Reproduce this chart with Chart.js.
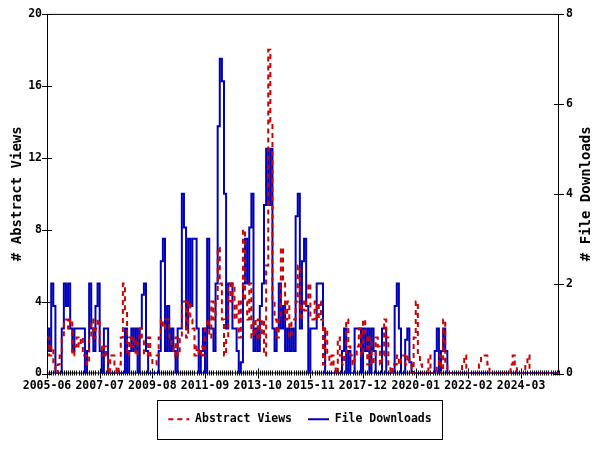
<!DOCTYPE html>
<html>
<head>
<meta charset="utf-8">
<script src="https://cdn.jsdelivr.net/npm/chart.js@4.4.0/dist/chart.umd.min.js"></script>
<style>
  html, body { margin: 0; padding: 0; background: #fff; }
</style>
</head>
<body>
<canvas id="graf" width="600" height="450"></canvas>
<script>
// meses desde 2005-06 hasta 2025-09
const inicioAnio = 2005, inicioMes = 6, totalMeses = 244;
const etiquetasEje = ['2005-06', '2007-07', '2009-08', '2011-09', '2013-10',
  '2015-11', '2017-12', '2020-01', '2022-02', '2024-03'];
const tituloIzq = '# Abstract Views';
const tituloDer = '# File Downloads';

// vistas del resumen (eje izquierdo)
const vistas = [
  2, 1, 1.5, 0.5, 0, 0.5, 1, 2, 3, 3, 2.5, 3,
  1, 1.5, 2, 1.5, 2, 1, 1, 0.5, 2, 3, 2, 2.5,
  3, 1.5, 1, 1.5, 1, 0, 1, 1, 0.5, 0, 0.5, 2,
  5, 3.5, 1, 2, 1.5, 2, 1, 2, 2.5, 2, 1, 1,
  2, 1, 0.5, 0.5, 1, 2, 3, 2.5, 3, 3, 2, 1.5,
  1, 2, 1, 2, 4, 4, 2, 4, 3, 2.5, 1, 1.5,
  1, 1.5, 1, 2.5, 3, 2, 4, 3, 4, 7, 5, 3,
  1, 2, 5, 4, 5, 3, 4, 2, 4, 8, 4, 3,
  5, 2, 3, 2, 3, 2, 3, 1, 6, 18, 14, 4,
  3, 2, 3, 7, 5, 3, 4, 2, 3, 3, 4, 6,
  3, 4, 3.5, 4, 5, 3, 3, 4, 3, 4, 3, 0.5,
  2.5, 1, 0.5, 1, 0.5, 0, 2, 1, 0.5, 1, 3, 1.5,
  1, 0.5, 1, 1.5, 2.5, 1, 3, 2, 0.5, 2, 0.5, 1,
  2, 1.5, 0.5, 1, 3, 2, 0.5, 0, 0.5, 0.5, 1, 0.5,
  1, 1, 0.5, 1, 0.5, 0, 2, 4, 1, 0.5, 0, 0,
  0, 1, 0, 0, 0, 0.5, 1, 0, 3, 0.5, 0, 0,
  0, 0, 0, 0, 0, 0.5, 1, 0, 0, 0, 0, 0,
  0, 0.5, 1, 1, 1, 0.5, 0, 0, 0, 0, 0, 0,
  0, 0, 0, 0, 0.5, 1, 0.5, 0, 0, 0, 0, 0.5,
  1, 0, 0, 0, 0, 0, 0, 0, 0, 0, 0, 0,
  0, 0, 0, 0
];

// descargas de archivo (eje derecho)
const descargas = [
  1, 0.5, 2, 1.5, 0, 0, 0, 1, 2, 1.5, 2, 1,
  0.5, 1, 1, 1, 1, 1, 0, 0.5, 2, 1, 0.5, 1.5,
  2, 0.5, 0, 1, 1, 0, 0, 0, 0, 0, 0, 0,
  0, 1, 0, 0.5, 1, 0.5, 1, 0, 1, 1.75, 2, 0.5,
  0, 0, 0, 0, 0, 0.5, 2.5, 3, 0.5, 1.5, 0.5, 1,
  0.5, 0, 1, 1, 4, 3.25, 1, 3, 1.5, 3, 3, 1,
  0, 0.5, 1, 0, 3, 1, 1, 0.5, 2, 5.5, 7, 6.5,
  4, 1, 2, 2, 1, 1, 0.5, 0, 0.25, 2, 3, 2,
  3.25, 4, 0.5, 1, 0.5, 1.5, 2, 3.75, 5, 3.75, 5, 1,
  0.5, 1, 2, 1, 1.5, 0.5, 1, 0.5, 1, 0.5, 3.5, 4,
  1, 2.5, 3, 1.5, 0, 1, 1, 1, 2, 2, 2, 1,
  0, 0, 0, 0, 0, 0, 0, 0, 0.5, 1, 0, 0.5,
  0, 0, 1, 1, 1, 0, 1, 0.5, 1, 0, 1, 0.5,
  0, 0, 0, 1, 1, 0, 0, 0, 0, 1.5, 2, 1,
  0, 0, 0.75, 1, 0.25, 0, 0, 0, 0, 0, 0, 0,
  0, 0, 0, 0, 0.5, 1, 0, 0.5, 1, 0.5, 0, 0,
  0, 0, 0, 0, 0, 0, 0, 0, 0, 0, 0, 0,
  0, 0, 0, 0, 0, 0, 0, 0, 0, 0, 0, 0,
  0, 0, 0, 0, 0, 0, 0, 0, 0, 0, 0, 0,
  0, 0, 0, 0, 0, 0, 0, 0, 0, 0, 0, 0,
  0, 0, 0, 0
];

const meses = [];
for (let i = 0; i < totalMeses; i++) {
  const m = inicioMes - 1 + i;
  meses.push((inicioAnio + Math.floor(m / 12)) + '-' + String(m % 12 + 1).padStart(2, '0'));
}

const fuente = 'DejaVu Sans Mono';
Chart.defaults.font.family = fuente;
Chart.defaults.font.weight = 'bold';
Chart.defaults.font.size = 11.5;
Chart.defaults.color = '#000';

// marco, marcas de los ejes, titulo derecho y caja de la leyenda
const marco = {
  id: 'marco',
  beforeDatasetsDraw(chart) {
    const {ctx, chartArea: a} = chart;
    const sx = chart.scales.x, sy = chart.scales.y, sy1 = chart.scales.y1;
    ctx.save();
    ctx.strokeStyle = '#000';
    ctx.lineWidth = 1;
    ctx.beginPath();
    ctx.rect(a.left + 0.5, a.top + 0.5, a.right - a.left - 1, a.bottom - a.top - 1);
    for (let i = 0; i < meses.length; i++) {
      const px = Math.round(sx.getPixelForValue(i)) + 0.5;
      const mayor = etiquetasEje.includes(meses[i]);
      ctx.moveTo(px, a.bottom - (mayor ? 5 : 3));
      ctx.lineTo(px, a.bottom + (mayor ? 5 : 2));
    }
    sy.ticks.forEach(t => {
      const py = Math.round(sy.getPixelForValue(t.value)) + 0.5;
      ctx.moveTo(a.left - 5, py); ctx.lineTo(a.left + 5, py);
    });
    sy1.ticks.forEach(t => {
      const py = Math.round(sy1.getPixelForValue(t.value)) + 0.5;
      ctx.moveTo(a.right - 5, py); ctx.lineTo(a.right + 5, py);
    });
    ctx.stroke();
    ctx.restore();
  },
  afterDraw(chart) {
    const {ctx, chartArea: a} = chart;
    ctx.save();
    ctx.fillStyle = '#000';
    ctx.font = 'bold 14px ' + fuente;
    ctx.textAlign = 'center';
    ctx.textBaseline = 'middle';
    ctx.translate(586, (a.top + a.bottom) / 2);
    ctx.rotate(-Math.PI / 2);
    ctx.fillText(tituloDer, 0, 0);
    ctx.restore();

    const hb = chart.legend.legendHitBoxes;
    if (hb && hb.length) {
      const izq = hb[0].left - 11;
      const der = hb[hb.length - 1].left + hb[hb.length - 1].width + 11;
      const cy = hb[0].top + hb[0].height / 2;
      ctx.save();
      ctx.strokeStyle = '#000';
      ctx.lineWidth = 1;
      ctx.strokeRect(Math.round(izq) + 0.5, Math.round(cy - 19.5) + 0.5, Math.round(der - izq), 39);
      ctx.restore();
    }
  }
};

new Chart('graf', {
  type: 'line',
  data: {
    labels: meses,
    datasets: [{
      label: 'Abstract Views',
      data: vistas,
      yAxisID: 'y',
      borderColor: 'rgb(204, 0, 0)',
      backgroundColor: 'rgb(204, 0, 0)',
      borderWidth: 2,
      borderDash: [5, 4],
      pointRadius: 0,
      pointStyle: 'line',
      stepped: true
    }, {
      label: 'File Downloads',
      data: descargas,
      yAxisID: 'y1',
      borderColor: 'rgb(0, 0, 187)',
      backgroundColor: 'rgb(0, 0, 187)',
      borderWidth: 2,
      pointRadius: 0,
      pointStyle: 'line',
      stepped: true
    }]
  },
  options: {
    responsive: false,
    animation: false,
    events: [],
    layout: { padding: { left: 0, right: 0, top: 10, bottom: 15 } },
    plugins: {
      tooltip: { enabled: false },
      legend: {
        position: 'bottom',
        labels: {
          usePointStyle: true,
          pointStyleWidth: 21,
          padding: 16,
          font: { size: 11.5, weight: 'bold', family: fuente },
          generateLabels: chart => Chart.defaults.plugins.legend.labels.generateLabels(chart).map(it => {
            const ds = chart.data.datasets[it.datasetIndex];
            it.lineDash = ds.borderDash || [];
            it.strokeStyle = ds.borderColor;
            it.lineWidth = 2;
            return it;
          })
        }
      }
    },
    scales: {
      x: {
        type: 'category',
        offset: false,
        grid: { display: false, drawTicks: false },
        border: { display: false },
        ticks: {
          autoSkip: false,
          maxRotation: 0,
          minRotation: 0,
          padding: 6,
          callback: function (v) {
            const lab = this.getLabelForValue(v);
            return etiquetasEje.includes(lab) ? lab : '';
          }
        },
        afterFit: s => { s.height = 24; }
      },
      y: {
        position: 'left',
        min: 0,
        max: 20,
        grid: { display: false, drawTicks: false },
        border: { display: false },
        ticks: { stepSize: 4, padding: 5 },
        title: {
          display: true,
          text: tituloIzq,
          font: { size: 14, weight: 'bold', family: fuente },
          padding: { top: 9, bottom: 0 }
        },
        afterFit: s => { s.width = 47; }
      },
      y1: {
        position: 'right',
        min: 0,
        max: 8,
        grid: { display: false, drawTicks: false },
        border: { display: false },
        ticks: { stepSize: 2, padding: 7 },
        afterFit: s => { s.width = 41; }
      }
    }
  },
  plugins: [marco]
});
</script>
</body>
</html>
